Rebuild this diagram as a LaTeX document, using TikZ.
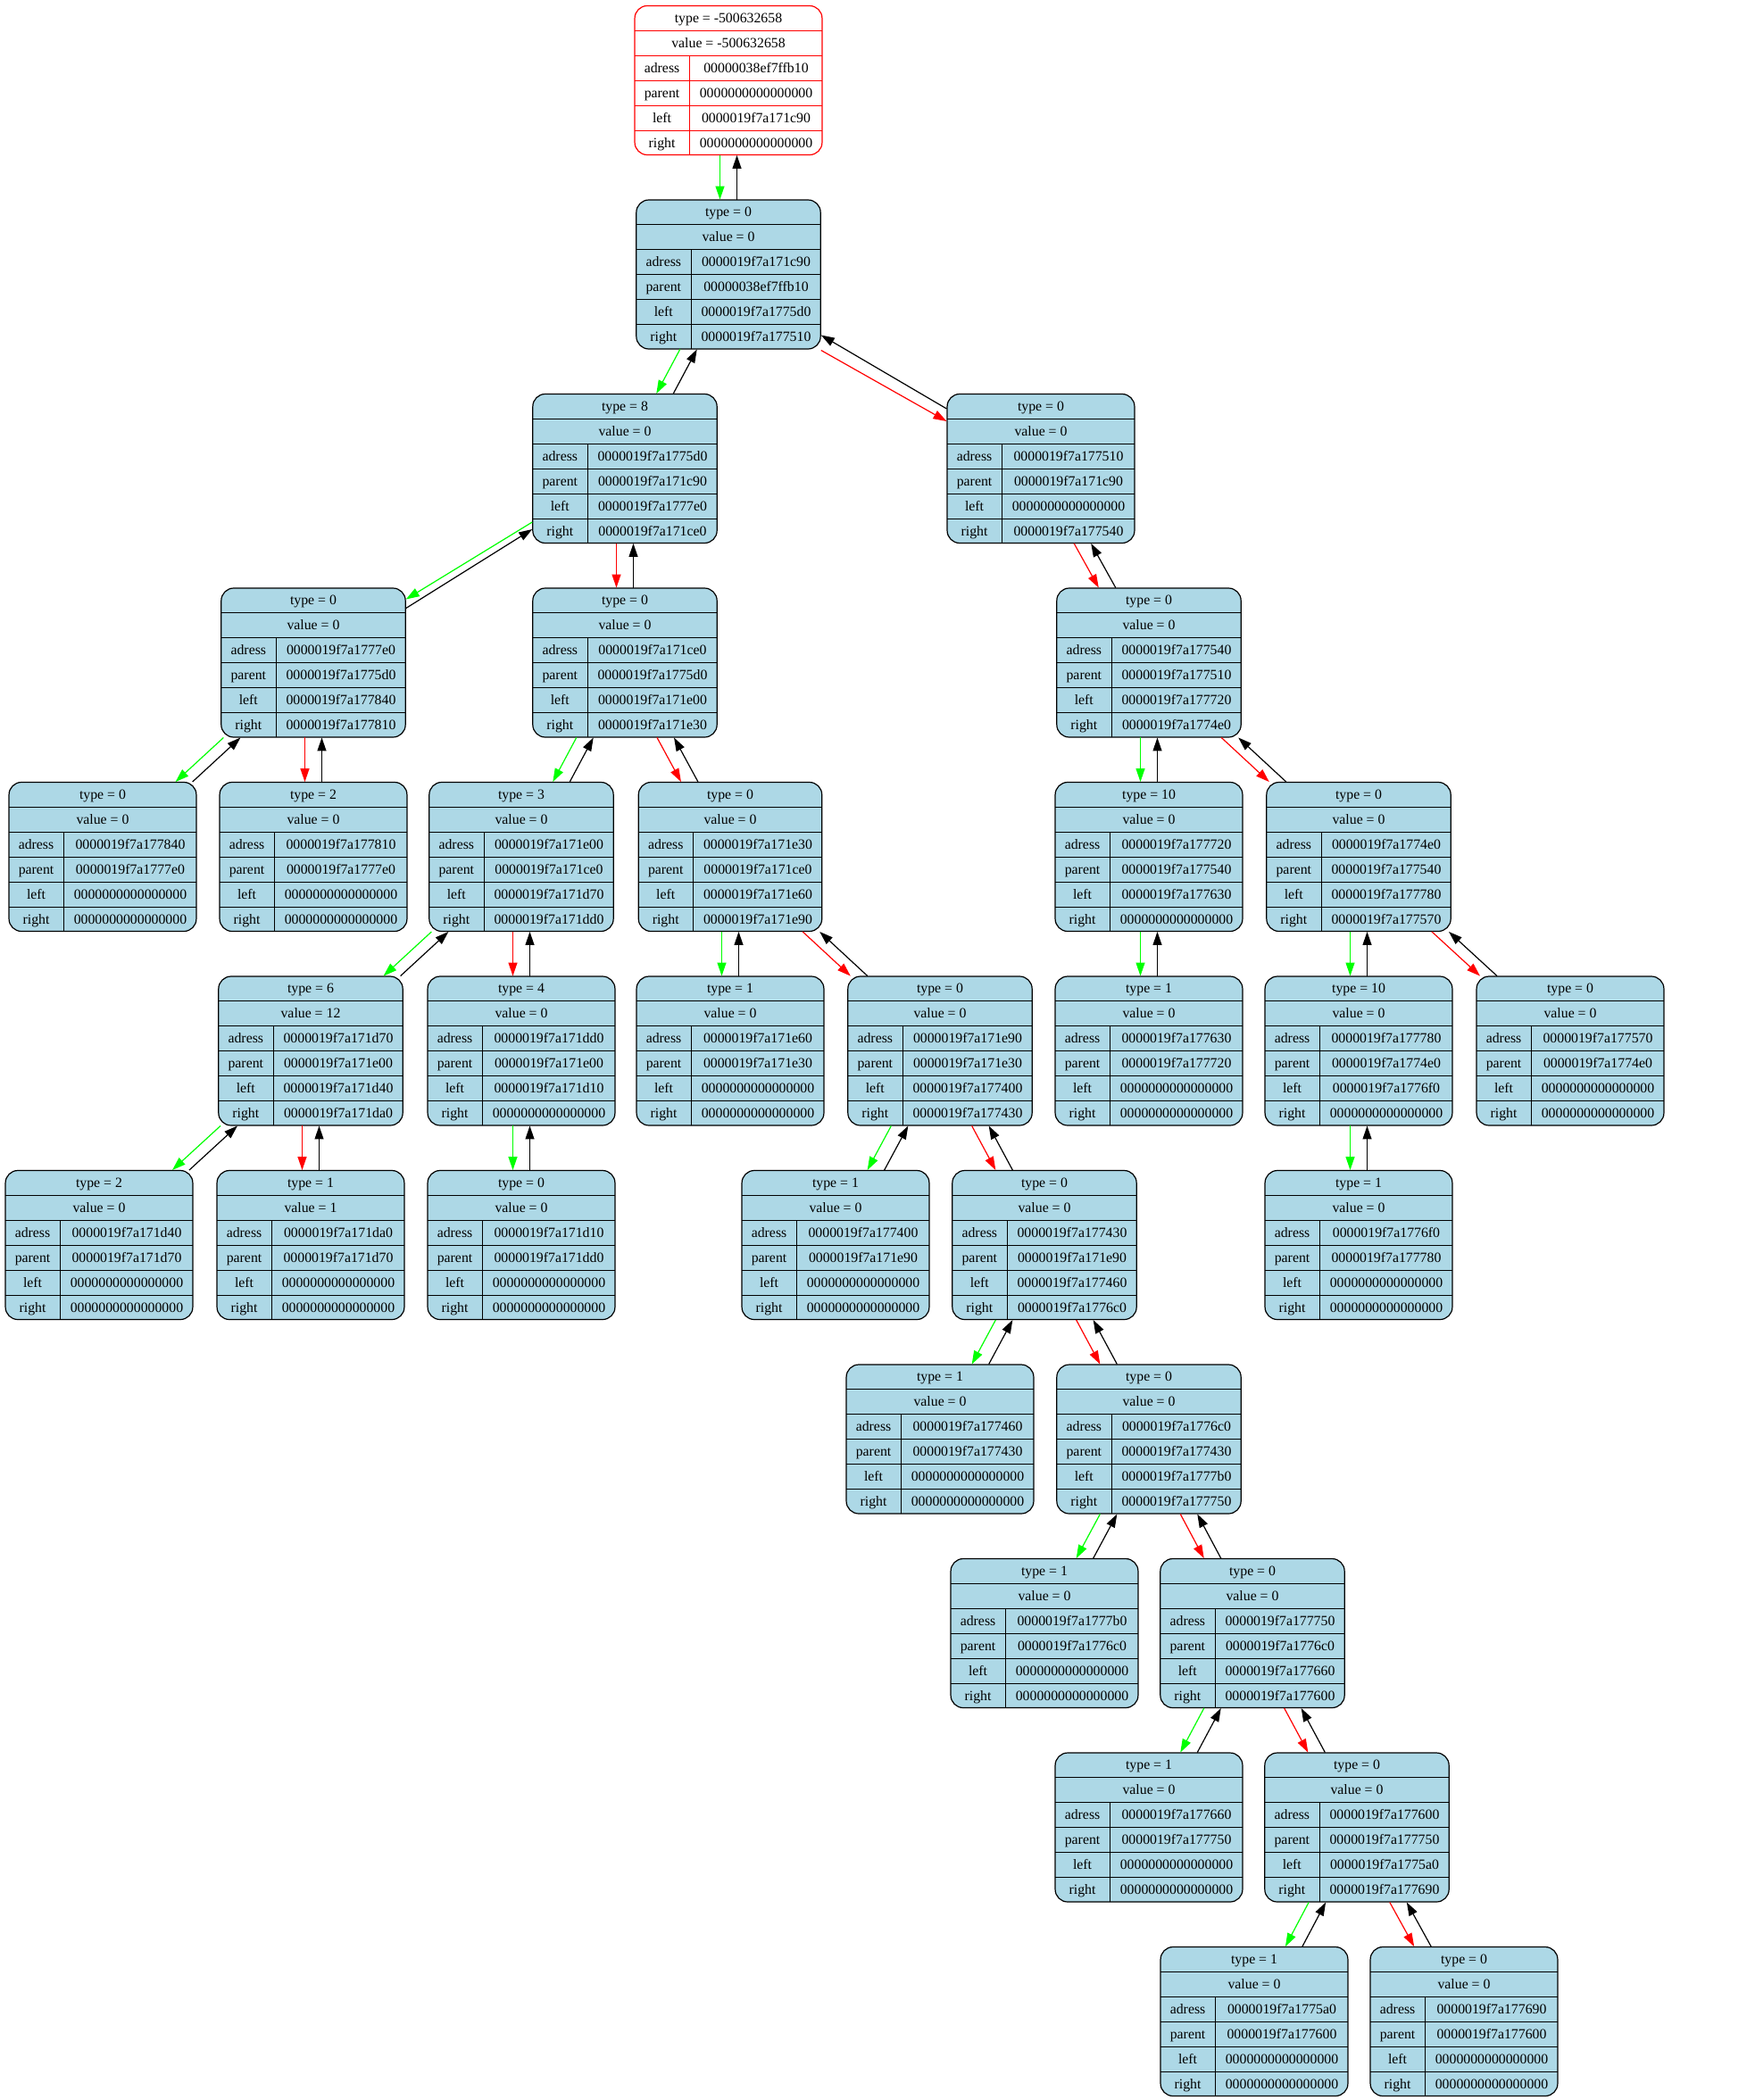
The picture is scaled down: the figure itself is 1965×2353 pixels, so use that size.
\documentclass[tikz,border=0pt]{standalone}
\usepackage{fontspec}
\setmainfont{Liberation Serif}
\usepackage{array}
\usetikzlibrary{calc}
\usetikzlibrary{arrows.meta}

\definecolor{recblue}{HTML}{ADD8E6}
\setlength{\tabcolsep}{10.75pt}
\setlength{\arrayrulewidth}{1pt}
\newcommand{\rowstrut}{\rule[-8.5pt]{0pt}{27pt}}
\newcommand{\blk}[1]{\textcolor{black}{#1}}
\newcommand{\zeroadr}{0000000000000000}
\newcommand{\recbox}[6]{%
  \begin{tabular}{c|c}
    \multicolumn{2}{c}{\rowstrut\blk{type = #1}}\\ \hline
    \multicolumn{2}{c}{\rowstrut\blk{value = #2}}\\ \hline
    \rowstrut\blk{adress} & \blk{#3}\\ \hline
    \rowstrut\blk{parent} & \blk{#4}\\ \hline
    \rowstrut\blk{left} & \blk{#5}\\ \hline
    \rowstrut\blk{right} & \blk{#6}
  \end{tabular}}

\begin{document}
\begin{tikzpicture}[x=1pt, y=1pt, font=\fontsize{15.8}{19}\selectfont,
    rec/.style={draw, fill=recblue, text=black, line width=1.2pt, rounded corners=14pt, inner sep=0pt},
    recroot/.style={rec, draw=red, fill=white, text=red},
    tochild/.style={line width=1.2pt, -{Triangle[length=15pt,width=10pt]}},
    toparent/.style={tochild, black}]
  \useasboundingbox (0,0) rectangle (1965,-2353);

  % row 0 and 1
  \node [recroot] (nb10) at (816,-90) {\recbox{-500632658}{-500632658}{00000038ef7ffb10}{\zeroadr}{0000019f7a171c90}{\zeroadr}};
  \node [rec] (nc90) at (816,-307.5) {\recbox{0}{0}{0000019f7a171c90}{00000038ef7ffb10}{0000019f7a1775d0}{0000019f7a177510}};

  % row 2
  \node [rec] (n5d0) at (700,-525) {\recbox{8}{0}{0000019f7a1775d0}{0000019f7a171c90}{0000019f7a1777e0}{0000019f7a171ce0}};
  \node [rec] (n510) at (1166,-525) {\recbox{0}{0}{0000019f7a177510}{0000019f7a171c90}{\zeroadr}{0000019f7a177540}};

  % row 3
  \node [rec] (n7e0) at (351,-742.5) {\recbox{0}{0}{0000019f7a1777e0}{0000019f7a1775d0}{0000019f7a177840}{0000019f7a177810}};
  \node [rec] (nce0) at (700,-742.5) {\recbox{0}{0}{0000019f7a171ce0}{0000019f7a1775d0}{0000019f7a171e00}{0000019f7a171e30}};
  \node [rec] (n540) at (1287,-742.5) {\recbox{0}{0}{0000019f7a177540}{0000019f7a177510}{0000019f7a177720}{0000019f7a1774e0}};

  % row 4
  \node [rec] (n840) at (115,-960) {\recbox{0}{0}{0000019f7a177840}{0000019f7a1777e0}{\zeroadr}{\zeroadr}};
  \node [rec] (n810) at (351,-960) {\recbox{2}{0}{0000019f7a177810}{0000019f7a1777e0}{\zeroadr}{\zeroadr}};
  \node [rec] (ne00) at (584,-960) {\recbox{3}{0}{0000019f7a171e00}{0000019f7a171ce0}{0000019f7a171d70}{0000019f7a171dd0}};
  \node [rec] (ne30) at (818,-960) {\recbox{0}{0}{0000019f7a171e30}{0000019f7a171ce0}{0000019f7a171e60}{0000019f7a171e90}};
  \node [rec] (n720) at (1287,-960) {\recbox{10}{0}{0000019f7a177720}{0000019f7a177540}{0000019f7a177630}{\zeroadr}};
  \node [rec] (n4e0) at (1522,-960) {\recbox{0}{0}{0000019f7a1774e0}{0000019f7a177540}{0000019f7a177780}{0000019f7a177570}};

  % row 5
  \node [rec] (nd70) at (348,-1177.5) {\recbox{6}{12}{0000019f7a171d70}{0000019f7a171e00}{0000019f7a171d40}{0000019f7a171da0}};
  \node [rec] (ndd0) at (584,-1177.5) {\recbox{4}{0}{0000019f7a171dd0}{0000019f7a171e00}{0000019f7a171d10}{\zeroadr}};
  \node [rec] (ne60) at (818,-1177.5) {\recbox{1}{0}{0000019f7a171e60}{0000019f7a171e30}{\zeroadr}{\zeroadr}};
  \node [rec] (ne90) at (1053,-1177.5) {\recbox{0}{0}{0000019f7a171e90}{0000019f7a171e30}{0000019f7a177400}{0000019f7a177430}};
  \node [rec] (n630) at (1287,-1177.5) {\recbox{1}{0}{0000019f7a177630}{0000019f7a177720}{\zeroadr}{\zeroadr}};
  \node [rec] (n780) at (1522,-1177.5) {\recbox{10}{0}{0000019f7a177780}{0000019f7a1774e0}{0000019f7a1776f0}{\zeroadr}};
  \node [rec] (n570) at (1759,-1177.5) {\recbox{0}{0}{0000019f7a177570}{0000019f7a1774e0}{\zeroadr}{\zeroadr}};

  % row 6
  \node [rec] (nd40) at (111,-1395) {\recbox{2}{0}{0000019f7a171d40}{0000019f7a171d70}{\zeroadr}{\zeroadr}};
  \node [rec] (nda0) at (348,-1395) {\recbox{1}{1}{0000019f7a171da0}{0000019f7a171d70}{\zeroadr}{\zeroadr}};
  \node [rec] (nd10) at (584,-1395) {\recbox{0}{0}{0000019f7a171d10}{0000019f7a171dd0}{\zeroadr}{\zeroadr}};
  \node [rec] (n400) at (936,-1395) {\recbox{1}{0}{0000019f7a177400}{0000019f7a171e90}{\zeroadr}{\zeroadr}};
  \node [rec] (n430) at (1170,-1395) {\recbox{0}{0}{0000019f7a177430}{0000019f7a171e90}{0000019f7a177460}{0000019f7a1776c0}};
  \node [rec] (n6f0) at (1522,-1395) {\recbox{1}{0}{0000019f7a1776f0}{0000019f7a177780}{\zeroadr}{\zeroadr}};

  % row 7
  \node [rec] (n460) at (1053,-1612.5) {\recbox{1}{0}{0000019f7a177460}{0000019f7a177430}{\zeroadr}{\zeroadr}};
  \node [rec] (n6c0) at (1287,-1612.5) {\recbox{0}{0}{0000019f7a1776c0}{0000019f7a177430}{0000019f7a1777b0}{0000019f7a177750}};

  % row 8
  \node [rec] (n7b0) at (1170,-1830) {\recbox{1}{0}{0000019f7a1777b0}{0000019f7a1776c0}{\zeroadr}{\zeroadr}};
  \node [rec] (n750) at (1403,-1830) {\recbox{0}{0}{0000019f7a177750}{0000019f7a1776c0}{0000019f7a177660}{0000019f7a177600}};

  % row 9
  \node [rec] (n660) at (1287,-2047.5) {\recbox{1}{0}{0000019f7a177660}{0000019f7a177750}{\zeroadr}{\zeroadr}};
  \node [rec] (n600) at (1520,-2047.5) {\recbox{0}{0}{0000019f7a177600}{0000019f7a177750}{0000019f7a1775a0}{0000019f7a177690}};

  % row 10
  \node [rec] (n5a0) at (1405,-2265) {\recbox{1}{0}{0000019f7a1775a0}{0000019f7a177600}{\zeroadr}{\zeroadr}};
  \node [rec] (n690) at (1640,-2265) {\recbox{0}{0}{0000019f7a177690}{0000019f7a177600}{\zeroadr}{\zeroadr}};

  % links that leave by the sides
  \draw [tochild, red] ([yshift=-85pt]nc90.east) -- ([yshift=53pt]n510.west);
  \draw [toparent] ([yshift=67pt]n510.west) -- ([yshift=-68pt]nc90.east);
  \draw [tochild, green] ([yshift=-60pt]n5d0.west) -- ([yshift=71pt]n7e0.east);
  \draw [toparent] ([yshift=61pt]n7e0.east) -- ([yshift=-68pt]n5d0.west);

  % links bottom to top
  \draw [tochild, green] ($ (nb10)!.386!(nc90) + (-9.5,0) $) -- ($ (nc90)!.386!(nb10) + (-9.5,0) $);
  \draw [toparent] ($ (nc90)!.386!(nb10) + (9.5,0) $) -- ($ (nb10)!.386!(nc90) + (9.5,0) $);
  \draw [tochild, green] ($ (nc90)!.386!(n5d0) + (-9.5,0) $) -- ($ (n5d0)!.386!(nc90) + (-9.5,0) $);
  \draw [toparent] ($ (n5d0)!.386!(nc90) + (9.5,0) $) -- ($ (nc90)!.386!(n5d0) + (9.5,0) $);
  \draw [tochild, red] ($ (n5d0)!.386!(nce0) + (-9.5,0) $) -- ($ (nce0)!.386!(n5d0) + (-9.5,0) $);
  \draw [toparent] ($ (nce0)!.386!(n5d0) + (9.5,0) $) -- ($ (n5d0)!.386!(nce0) + (9.5,0) $);
  \draw [tochild, red] ($ (n510)!.386!(n540) + (-9.5,0) $) -- ($ (n540)!.386!(n510) + (-9.5,0) $);
  \draw [toparent] ($ (n540)!.386!(n510) + (9.5,0) $) -- ($ (n510)!.386!(n540) + (9.5,0) $);
  \draw [tochild, green] ($ (n7e0)!.386!(n840) + (-9.5,0) $) -- ($ (n840)!.386!(n7e0) + (-9.5,0) $);
  \draw [toparent] ($ (n840)!.386!(n7e0) + (9.5,0) $) -- ($ (n7e0)!.386!(n840) + (9.5,0) $);
  \draw [tochild, red] ($ (n7e0)!.386!(n810) + (-9.5,0) $) -- ($ (n810)!.386!(n7e0) + (-9.5,0) $);
  \draw [toparent] ($ (n810)!.386!(n7e0) + (9.5,0) $) -- ($ (n7e0)!.386!(n810) + (9.5,0) $);
  \draw [tochild, green] ($ (nce0)!.386!(ne00) + (-9.5,0) $) -- ($ (ne00)!.386!(nce0) + (-9.5,0) $);
  \draw [toparent] ($ (ne00)!.386!(nce0) + (9.5,0) $) -- ($ (nce0)!.386!(ne00) + (9.5,0) $);
  \draw [tochild, red] ($ (nce0)!.386!(ne30) + (-9.5,0) $) -- ($ (ne30)!.386!(nce0) + (-9.5,0) $);
  \draw [toparent] ($ (ne30)!.386!(nce0) + (9.5,0) $) -- ($ (nce0)!.386!(ne30) + (9.5,0) $);
  \draw [tochild, green] ($ (n540)!.386!(n720) + (-9.5,0) $) -- ($ (n720)!.386!(n540) + (-9.5,0) $);
  \draw [toparent] ($ (n720)!.386!(n540) + (9.5,0) $) -- ($ (n540)!.386!(n720) + (9.5,0) $);
  \draw [tochild, red] ($ (n540)!.386!(n4e0) + (-9.5,0) $) -- ($ (n4e0)!.386!(n540) + (-9.5,0) $);
  \draw [toparent] ($ (n4e0)!.386!(n540) + (9.5,0) $) -- ($ (n540)!.386!(n4e0) + (9.5,0) $);
  \draw [tochild, green] ($ (ne00)!.386!(nd70) + (-9.5,0) $) -- ($ (nd70)!.386!(ne00) + (-9.5,0) $);
  \draw [toparent] ($ (nd70)!.386!(ne00) + (9.5,0) $) -- ($ (ne00)!.386!(nd70) + (9.5,0) $);
  \draw [tochild, red] ($ (ne00)!.386!(ndd0) + (-9.5,0) $) -- ($ (ndd0)!.386!(ne00) + (-9.5,0) $);
  \draw [toparent] ($ (ndd0)!.386!(ne00) + (9.5,0) $) -- ($ (ne00)!.386!(ndd0) + (9.5,0) $);
  \draw [tochild, green] ($ (ne30)!.386!(ne60) + (-9.5,0) $) -- ($ (ne60)!.386!(ne30) + (-9.5,0) $);
  \draw [toparent] ($ (ne60)!.386!(ne30) + (9.5,0) $) -- ($ (ne30)!.386!(ne60) + (9.5,0) $);
  \draw [tochild, red] ($ (ne30)!.386!(ne90) + (-9.5,0) $) -- ($ (ne90)!.386!(ne30) + (-9.5,0) $);
  \draw [toparent] ($ (ne90)!.386!(ne30) + (9.5,0) $) -- ($ (ne30)!.386!(ne90) + (9.5,0) $);
  \draw [tochild, green] ($ (n720)!.386!(n630) + (-9.5,0) $) -- ($ (n630)!.386!(n720) + (-9.5,0) $);
  \draw [toparent] ($ (n630)!.386!(n720) + (9.5,0) $) -- ($ (n720)!.386!(n630) + (9.5,0) $);
  \draw [tochild, green] ($ (n4e0)!.386!(n780) + (-9.5,0) $) -- ($ (n780)!.386!(n4e0) + (-9.5,0) $);
  \draw [toparent] ($ (n780)!.386!(n4e0) + (9.5,0) $) -- ($ (n4e0)!.386!(n780) + (9.5,0) $);
  \draw [tochild, red] ($ (n4e0)!.386!(n570) + (-9.5,0) $) -- ($ (n570)!.386!(n4e0) + (-9.5,0) $);
  \draw [toparent] ($ (n570)!.386!(n4e0) + (9.5,0) $) -- ($ (n4e0)!.386!(n570) + (9.5,0) $);
  \draw [tochild, green] ($ (nd70)!.386!(nd40) + (-9.5,0) $) -- ($ (nd40)!.386!(nd70) + (-9.5,0) $);
  \draw [toparent] ($ (nd40)!.386!(nd70) + (9.5,0) $) -- ($ (nd70)!.386!(nd40) + (9.5,0) $);
  \draw [tochild, red] ($ (nd70)!.386!(nda0) + (-9.5,0) $) -- ($ (nda0)!.386!(nd70) + (-9.5,0) $);
  \draw [toparent] ($ (nda0)!.386!(nd70) + (9.5,0) $) -- ($ (nd70)!.386!(nda0) + (9.5,0) $);
  \draw [tochild, green] ($ (ndd0)!.386!(nd10) + (-9.5,0) $) -- ($ (nd10)!.386!(ndd0) + (-9.5,0) $);
  \draw [toparent] ($ (nd10)!.386!(ndd0) + (9.5,0) $) -- ($ (ndd0)!.386!(nd10) + (9.5,0) $);
  \draw [tochild, green] ($ (ne90)!.386!(n400) + (-9.5,0) $) -- ($ (n400)!.386!(ne90) + (-9.5,0) $);
  \draw [toparent] ($ (n400)!.386!(ne90) + (9.5,0) $) -- ($ (ne90)!.386!(n400) + (9.5,0) $);
  \draw [tochild, red] ($ (ne90)!.386!(n430) + (-9.5,0) $) -- ($ (n430)!.386!(ne90) + (-9.5,0) $);
  \draw [toparent] ($ (n430)!.386!(ne90) + (9.5,0) $) -- ($ (ne90)!.386!(n430) + (9.5,0) $);
  \draw [tochild, green] ($ (n780)!.386!(n6f0) + (-9.5,0) $) -- ($ (n6f0)!.386!(n780) + (-9.5,0) $);
  \draw [toparent] ($ (n6f0)!.386!(n780) + (9.5,0) $) -- ($ (n780)!.386!(n6f0) + (9.5,0) $);
  \draw [tochild, green] ($ (n430)!.386!(n460) + (-9.5,0) $) -- ($ (n460)!.386!(n430) + (-9.5,0) $);
  \draw [toparent] ($ (n460)!.386!(n430) + (9.5,0) $) -- ($ (n430)!.386!(n460) + (9.5,0) $);
  \draw [tochild, red] ($ (n430)!.386!(n6c0) + (-9.5,0) $) -- ($ (n6c0)!.386!(n430) + (-9.5,0) $);
  \draw [toparent] ($ (n6c0)!.386!(n430) + (9.5,0) $) -- ($ (n430)!.386!(n6c0) + (9.5,0) $);
  \draw [tochild, green] ($ (n6c0)!.386!(n7b0) + (-9.5,0) $) -- ($ (n7b0)!.386!(n6c0) + (-9.5,0) $);
  \draw [toparent] ($ (n7b0)!.386!(n6c0) + (9.5,0) $) -- ($ (n6c0)!.386!(n7b0) + (9.5,0) $);
  \draw [tochild, red] ($ (n6c0)!.386!(n750) + (-9.5,0) $) -- ($ (n750)!.386!(n6c0) + (-9.5,0) $);
  \draw [toparent] ($ (n750)!.386!(n6c0) + (9.5,0) $) -- ($ (n6c0)!.386!(n750) + (9.5,0) $);
  \draw [tochild, green] ($ (n750)!.386!(n660) + (-9.5,0) $) -- ($ (n660)!.386!(n750) + (-9.5,0) $);
  \draw [toparent] ($ (n660)!.386!(n750) + (9.5,0) $) -- ($ (n750)!.386!(n660) + (9.5,0) $);
  \draw [tochild, red] ($ (n750)!.386!(n600) + (-9.5,0) $) -- ($ (n600)!.386!(n750) + (-9.5,0) $);
  \draw [toparent] ($ (n600)!.386!(n750) + (9.5,0) $) -- ($ (n750)!.386!(n600) + (9.5,0) $);
  \draw [tochild, green] ($ (n600)!.386!(n5a0) + (-9.5,0) $) -- ($ (n5a0)!.386!(n600) + (-9.5,0) $);
  \draw [toparent] ($ (n5a0)!.386!(n600) + (9.5,0) $) -- ($ (n600)!.386!(n5a0) + (9.5,0) $);
  \draw [tochild, red] ($ (n600)!.386!(n690) + (-9.5,0) $) -- ($ (n690)!.386!(n600) + (-9.5,0) $);
  \draw [toparent] ($ (n690)!.386!(n600) + (9.5,0) $) -- ($ (n600)!.386!(n690) + (9.5,0) $);
\end{tikzpicture}
\end{document}
